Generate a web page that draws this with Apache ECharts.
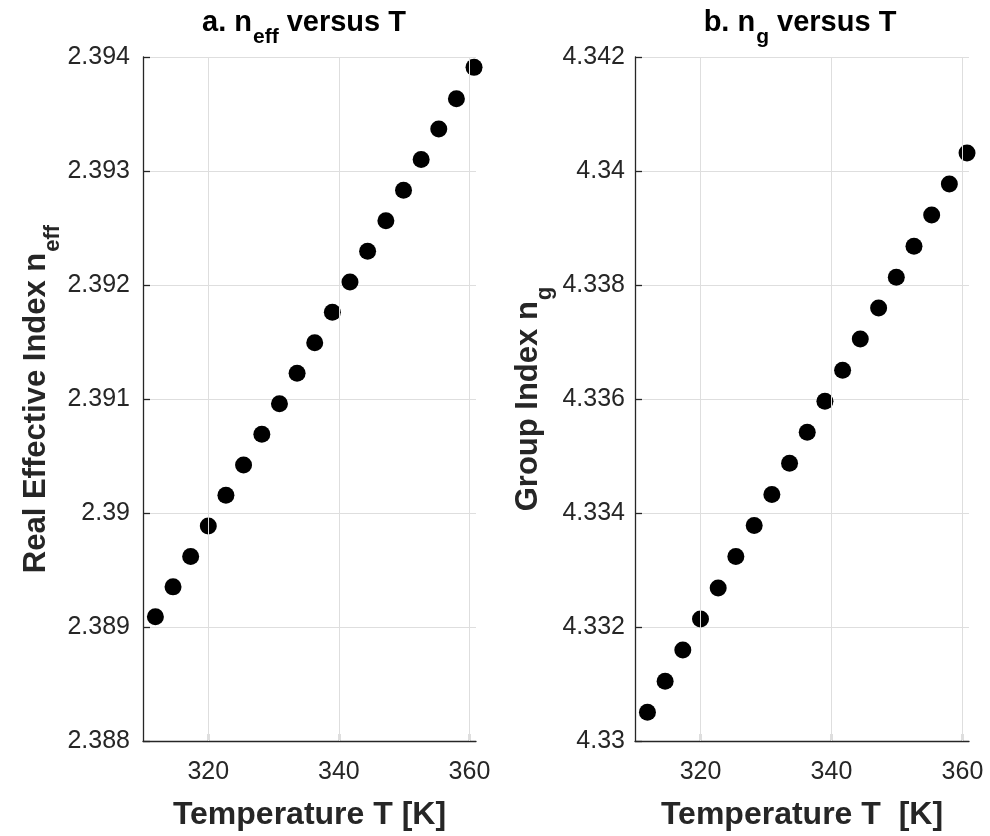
<!DOCTYPE html>
<html>
<head>
<meta charset="utf-8">
<script src="https://cdn.jsdelivr.net/npm/echarts@6/dist/echarts.min.js"></script>
<style>html,body{margin:0;padding:0;background:#fff}#c{width:990px;height:836px}</style>
</head>
<body>
<div id="c"></div>
<script>
var temperatureK = [311.9, 314.6, 317.3, 320.0, 322.7, 325.4, 328.2, 330.9, 333.6, 336.3, 339.0, 341.7, 344.4, 347.2, 349.9, 352.6, 355.3, 358.0, 360.7];
var neffValues = [2.389089, 2.389352, 2.389619, 2.389885, 2.390155, 2.390421, 2.390690, 2.390959, 2.391226, 2.391494, 2.391761, 2.392027, 2.392297, 2.392563, 2.392832, 2.393101, 2.393368, 2.393634, 2.393909];
var ngValues = [4.330504, 4.331047, 4.331596, 4.332140, 4.332684, 4.333235, 4.333779, 4.334323, 4.334872, 4.335416, 4.335960, 4.336504, 4.337053, 4.337596, 4.338135, 4.338679, 4.339228, 4.339772, 4.340316];
var xTicks = [320, 340, 360];

var FONT = 'Liberation Sans, Arial, Helvetica, sans-serif';
var TXT = '#262626';
var GRID = '#dedede';

function pairs(xs, ys) { return xs.map(function (x, i) { return [x, ys[i]]; }); }
function fmt(v) { return String(parseFloat(v.toFixed(4))); }

var richMain = function (fs, col) { return { fontSize: fs, fontWeight: 'bold', fontFamily: FONT, color: col || TXT, lineHeight: fs + 3, verticalAlign: 'top' }; };
var richSub = function (fs, pad, col) { return { fontSize: fs, fontWeight: 'bold', fontFamily: FONT, color: col || TXT, lineHeight: fs, padding: [pad, 0, 0, 1], verticalAlign: 'top' }; };

function xAxisCfg(idx, name) {
  return {
    gridIndex: idx, type: 'value', min: 310, max: 361,
    name: name, nameLocation: 'middle', nameGap: 58,
    nameTextStyle: { fontSize: 32, fontWeight: 'bold', fontFamily: FONT, color: TXT },
    axisLine: { show: true, onZero: false, lineStyle: { color: TXT, width: 1.3 } },
    axisTick: { show: true, inside: true, length: 7, customValues: xTicks, lineStyle: { color: TXT, width: 1.3 } },
    axisLabel: { customValues: xTicks, fontSize: 25, fontFamily: FONT, color: TXT, margin: 19 },
    splitLine: { show: false }
  };
}
function yAxisCfg(idx, min, max, interval, labelMargin, nameRich) {
  return {
    gridIndex: idx, type: 'value', min: min, max: max, interval: interval,
    name: nameRich.text, nameLocation: 'middle', nameRotate: 90, nameGap: 88,
    nameTextStyle: { rich: nameRich.rich },
    axisLine: { show: true, onZero: false, lineStyle: { color: TXT, width: 1.3 } },
    axisTick: { show: true, inside: true, length: 7, lineStyle: { color: TXT, width: 1.3 } },
    axisLabel: { fontSize: 25, fontFamily: FONT, color: TXT, margin: labelMargin, formatter: fmt },
    splitLine: { show: true, lineStyle: { color: GRID, width: 1 } }
  };
}

function gridLines(vals) {
  return {
    silent: true, symbol: 'none', label: { show: false },
    lineStyle: { color: GRID, width: 1, type: 'solid' },
    data: vals.map(function (v) { return { xAxis: v }; })
  };
}

var chart = echarts.init(document.getElementById('c'), null, { renderer: 'canvas' });
chart.setOption({
  backgroundColor: '#ffffff',
  animation: false,
  grid: [
    { left: 143, top: 57, width: 333, height: 684 },
    { left: 635, top: 57, width: 334, height: 684 }
  ],
  xAxis: [xAxisCfg(0, 'Temperature T [K]'), xAxisCfg(1, 'Temperature T  [K]')],
  yAxis: [
    yAxisCfg(0, 2.388, 2.394, 0.001, 13, { text: '{m|Real Effective Index n}{s|eff}', rich: { m: richMain(31), s: richSub(22, 21) } }),
    yAxisCfg(1, 4.330, 4.342, 0.002, 10, { text: '{m|Group Index n}{s|g}', rich: { m: richMain(31), s: richSub(22, 21) } })
  ],
  graphic: [
    { type: 'text', x: 304, y: 8, style: { text: '{m|a. n}{s|eff}{m| versus T}', align: 'center', verticalAlign: 'top', rich: { m: richMain(29, '#000'), s: richSub(21, 19, '#000') } } },
    { type: 'text', x: 800, y: 8, style: { text: '{m|b. n}{s|g}{m| versus T}', align: 'center', verticalAlign: 'top', rich: { m: richMain(29, '#000'), s: richSub(21, 19, '#000') } } }
  ],
  series: [
    { type: 'scatter', xAxisIndex: 0, yAxisIndex: 0, data: pairs(temperatureK, neffValues), symbol: 'circle', symbolSize: 17, itemStyle: { color: '#000', opacity: 1 }, z: 3, markLine: gridLines(xTicks) },
    { type: 'scatter', xAxisIndex: 1, yAxisIndex: 1, data: pairs(temperatureK, ngValues), symbol: 'circle', symbolSize: 17, itemStyle: { color: '#000', opacity: 1 }, z: 3, markLine: gridLines(xTicks) }
  ]
});
</script>
</body>
</html>
